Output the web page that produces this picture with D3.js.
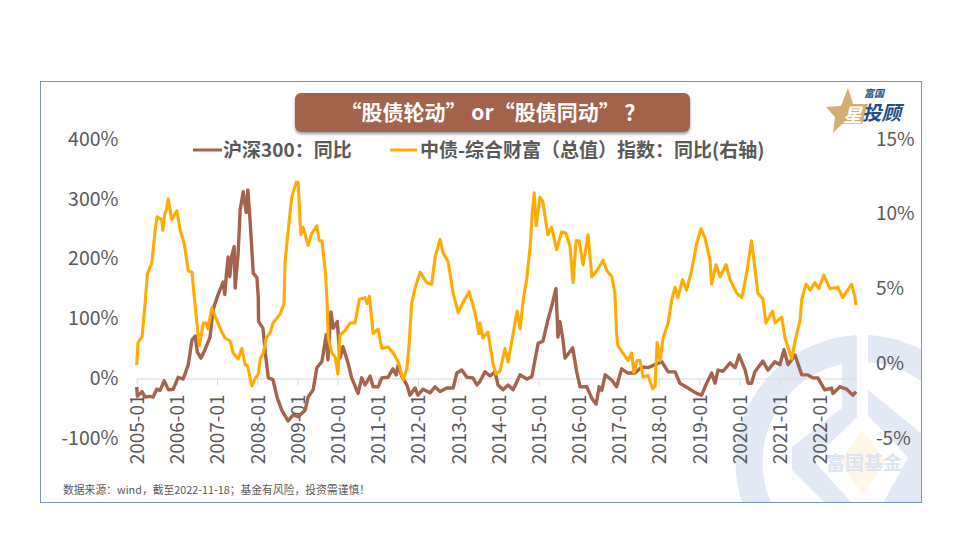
<!DOCTYPE html>
<html><head><meta charset="utf-8">
<script src="https://cdn.jsdelivr.net/npm/d3@7"></script>
<style>html,body{margin:0;padding:0;background:#fff}svg{display:block}text{font-family:"Noto Sans CJK SC","Noto Sans",sans-serif}</style>
</head><body><div id="c"></div>
<script>
const tickLabels=["2005-01","2006-01","2007-01","2008-01","2009-01","2010-01","2011-01","2012-01","2013-01","2014-01","2015-01","2016-01","2017-01","2018-01","2019-01","2020-01","2021-01","2022-01"];
const tickMonths=[0,12,24,36,48,60,72,84,96,108,120,132,144,156,168,180,192,204];
const leftTicks=[-100,0,100,200,300,400];
const rightTicks=[-5,0,5,10,15];
// months elapsed since 2005-01
const stockMonths=[0,.2,1.6,2.5,4,4.9,6,7,8.2,9.5,10.9,12.4,13.9,15.4,16.5,17.5,18.1,19.2,20.4,21.9,22.8,24.3,25.8,26.3,26.8,27.3,27.8,28.4,29.1,29.4,30.3,30.9,31.8,32.7,33.2,33.9,34.8,35.9,36.3,36.4,37.7,38.4,39.3,40.7,41.9,43.3,45.2,46.7,48.2,50.3,51.2,52.7,53.8,55.3,56.6,57.1,58,58.7,59.9,60.7,61.6,63.1,64.2,66.1,67.2,68.2,69.7,70.6,72.1,73.2,75.1,76.5,77.5,78.1,79.2,80.7,81.6,83.1,84,85.5,87.6,89.1,90.6,92.6,94.5,95.6,97.1,98.6,100.4,101.6,102.5,104,105.5,107,107.9,109.4,110.9,112.4,114.5,116.5,118,119.9,121.3,122.8,123.9,125.2,125.8,126.4,127.3,127.9,130.2,131.4,132.4,134.4,135.9,137.2,138.1,138.9,139.9,141.9,143.3,144.8,146.7,148.8,150.8,152.7,154.8,156.8,158.7,160.8,162.2,164.6,167.2,168.7,170.2,171.7,172.7,173.6,175.1,177.2,178.7,179.9,181.7,182.6,183.6,184.6,187,188.5,190.6,192.1,193.3,194.5,196.6,198.6,200.4,201.9,203.4,205.5,207.5,207.9,210,212,213.9,214.8];
const stockYoY=[-14,-30,-22,-31,-30,-31,-18,-20,-4,-19,-18,2,-1,23,64,71,44,34,48,69,115,140,161,140,175,203,170,205,220,151,210,282,312,277,315,260,176,168,136,95,84,43,1,-2,-31,-53,-71,-61,-64,-53,-31,-19,18,28,73,31,111,84,95,34,53,26,1,-25,1,-11,4,-14,-14,1,2,16,6,23,3,-11,-28,-16,-28,-18,-24,-14,-22,-16,-16,9,14,2,1,-11,-5,11,4,11,-11,-19,-11,-19,6,-1,3,59,62,98,120,150,69,95,64,34,51,11,-14,-14,-33,-43,-14,-20,6,-3,-14,16,9,9,19,18,23,28,11,11,-8,-16,-25,-28,-8,9,-8,14,12,26,18,39,14,-8,-8,11,29,14,28,23,48,23,39,6,6,1,1,-19,-16,-25,-14,-18,-28,-22];
const bondMonths=[0,.4,1.6,2.5,3.2,4.5,5.5,6.1,7.5,7.8,8.4,8.9,9.4,10.5,11.2,12,13,14.2,15.4,16.5,17.2,17.8,18.7,19.9,20.7,21.3,22.4,23.9,25.4,26.4,27.9,28.8,30.3,31.4,32.4,33,34.4,35.4,36.3,36.9,37.8,38.7,39.9,40.7,42.8,44,44.3,45.2,46.3,47.6,48.2,49,49.7,51.2,52.3,53.8,54.5,55.3,56.3,56.8,57.2,58.3,59.3,60.1,60.7,62.2,63.7,65.2,66.5,68.2,68.8,69.5,70.6,72.1,73.2,75.1,76.6,78.1,79.6,80.7,81.3,82.1,83.1,84.6,86.6,88.1,89.1,90.6,91.5,93,94.5,96,97.5,99.3,101,102.2,102.5,103.4,104.9,106.4,107.3,108.5,110,110.9,112.4,113.6,114.5,115.4,116.5,117.5,118.1,118.7,119.3,120.4,121.3,122.1,122.8,123.9,125.4,126.9,128.2,129.4,130.3,131.2,132.1,133.3,134.8,135.9,137.4,139.3,140.4,141.9,142.8,143.3,143.7,145.2,146.7,147.8,148.5,149.4,150.3,151.2,152.7,154.1,154.8,155.4,156.3,157.2,158.7,159.8,160.8,161.6,163,164.2,165.7,167.2,168.5,169.7,171.2,171.7,173,174.2,176,177.2,179.2,180.7,182.2,183.6,184.6,185.5,187,187.9,189.9,190.6,192.6,193.6,195.6,196.6,198.1,198.6,199.9,201.1,202.5,203.7,205.2,207,209.4,210.8,212,213.5,214.5,214.8];
const bondYoY=[-.1,1.4,1.8,4,6,6.7,8.9,9.8,9.6,8.9,10,10.3,11,9.6,9.9,10.2,8.9,8,6.2,6.1,4.4,3.1,1.2,2.7,2.7,2.3,3.7,2.9,2.1,1.7,1.5,.7,.3,1,-.1,-.1,-1.5,-1,-.7,.3,.7,1.7,2.1,2.7,3.3,4,6.8,8.8,11.1,12.1,12.1,8.6,9.1,7.9,8.7,9.2,8.2,8.2,6.2,4.4,1.7,.7,.4,-.7,1.9,2.2,2.7,2.7,4.3,4.4,4,4.5,2,2.3,1,1.1,.7,.1,-1.1,-.3,1.1,4,5,6.1,5.4,5.3,7.1,8.3,7.4,6.8,4.7,3.4,4.1,4.8,3.4,2,2.7,1.7,2.1,0,-.7,-.5,1,.1,2,3.5,2.3,4.2,5.7,7.8,10,11.4,9.2,11.1,10.8,9.6,8.6,9.1,7.6,8.8,8.7,7.8,5.4,8.2,8.2,6.6,8.6,5.8,6.2,6.9,6.2,5.8,4.7,2,1.2,.7,.2,.7,-.6,.2,.2,-.9,-.8,-1.7,-1.5,1.4,.2,1.7,2.7,4.3,5.1,4.4,5.6,4.9,6.2,8,9,8.4,6.9,5.3,6.6,5.8,6.6,5.6,4.7,4.4,6.1,8.2,6.4,4.7,4.3,2.7,3.5,2.7,3.1,1.7,.3,1.5,2.9,4.3,5.3,4.9,5.4,5,5.9,5,5.1,4.4,4.8,5.3,4.4,3.9];
const titleText="“股债轮动” or“股债同动” ？";
const legendStock="沪深300：同比";
const legendBond="中债-综合财富（总值）指数：同比(右轴)";
const sourceText="数据来源：wind，截至2022-11-18；基金有风险，投资需谨慎！";
const stockColor="#a3634c",bondColor="#ffab00",textColor="#595959",mark="#e3e9f4";

const svg=d3.select("#c").append("svg").attr("width",960).attr("height",540);
const defs=svg.append("defs");
const f=defs.append("filter").attr("id","sh").attr("x","-5%").attr("y","-20%").attr("width","110%").attr("height","150%");
f.append("feDropShadow").attr("dx",0).attr("dy",2).attr("stdDeviation",1.6).attr("flood-color","#000").attr("flood-opacity",.4);
defs.append("clipPath").attr("id","box").append("rect").attr("x",41).attr("y",82).attr("width",880).attr("height",420);
defs.append("clipPath").attr("id","ringL").append("rect").attr("x",700).attr("y",300).attr("width",157).attr("height",210);
defs.append("clipPath").attr("id","ringR").append("rect").attr("x",868).attr("y",300).attr("width",60).attr("height",210);

svg.append("rect").attr("x",40.5).attr("y",81.5).attr("width",881).attr("height",421).attr("fill","#fff").attr("stroke","#7396bb").attr("stroke-width",1);

// watermark
const wm=svg.append("g").attr("clip-path","url(#box)");
[["ringL"],["ringR"]].forEach(([id])=>{wm.append("g").attr("clip-path",`url(#${id})`).append("circle").attr("cx",862.5).attr("cy",462).attr("r",113.5).attr("fill","none").attr("stroke",mark).attr("stroke-width",27);});
wm.append("path").attr("fill",mark).attr("d","M842,352L857,345L857,417L813,460L852,503L825,503L792,470L792,447L842,408Z");
wm.append("path").attr("fill",mark).attr("d","M868,390L921,433L921,503L883,503L908,458L868,415Z");
wm.append("path").attr("fill","#fef7e8").attr("d","M862.5,430L885.5,462L862.5,494L840,462Z");
wm.append("text").attr("x",864).attr("y",470).attr("text-anchor","middle").attr("font-size",19).attr("font-weight",700).attr("fill","#dbe4f0").text("富国基金");

const x=d3.scaleLinear().domain([0,214.8]).range([136.7,856]);
const yL=d3.scaleLinear().domain([-100,400]).range([438.3,139]);
const yR=d3.scaleLinear().domain([-5,15]).range([438.3,139]);

const ax=svg.append("g").attr("transform",`translate(0,${yL(0)})`)
 .call(d3.axisBottom(x).tickValues(tickMonths).tickFormat((d,i)=>tickLabels[i]).tickSize(7).tickSizeOuter(0));
ax.select(".domain").attr("stroke","#d9d9d9").attr("stroke-width",1);
ax.selectAll("line").attr("stroke","#d9d9d9");
ax.selectAll("text").attr("transform","rotate(-90)").attr("x",-16).attr("y",0).attr("dy",".36em").attr("text-anchor","end").attr("font-size",19).attr("fill",textColor).style("font-family",'"Noto Sans CJK SC"');

const la=svg.append("g").attr("transform","translate(118.5,0)").call(d3.axisLeft(yL).tickValues(leftTicks).tickFormat(d=>d+"%").tickSize(0).tickPadding(0));
la.select(".domain").remove();
la.selectAll("text").attr("font-size",19.5).attr("fill",textColor).style("font-family",'"Noto Sans CJK SC"');
const ra=svg.append("g").attr("transform","translate(876,0)").call(d3.axisRight(yR).tickValues(rightTicks).tickFormat(d=>d+"%").tickSize(0).tickPadding(0));
ra.select(".domain").remove();
ra.selectAll("text").attr("font-size",19).attr("fill",textColor).style("font-family",'"Noto Sans CJK SC"');

const lineOf=(ms,vs,y)=>d3.line().x((d,i)=>x(ms[i])).y((d,i)=>y(vs[i]))(vs);
svg.append("path").attr("d",lineOf(stockMonths,stockYoY,yL)).attr("fill","none").attr("stroke",stockColor).attr("stroke-width",3.4).attr("stroke-linejoin","round");
svg.append("path").attr("d",lineOf(bondMonths,bondYoY,yR)).attr("fill","none").attr("stroke",bondColor).attr("stroke-width",3.1).attr("stroke-linejoin","round");

// title
svg.append("rect").attr("x",295).attr("y",93).attr("width",395).attr("height",39).attr("rx",6).attr("fill",stockColor).attr("filter","url(#sh)");
svg.append("text").attr("x",493).attr("y",120).attr("text-anchor","middle").attr("font-size",21).attr("font-weight",700).attr("fill","#fff").text(titleText);

// legend
const lg=svg.append("g");
lg.append("line").attr("x1",193).attr("x2",222).attr("y1",150).attr("y2",150).attr("stroke",stockColor).attr("stroke-width",3);
lg.append("text").attr("x",223).attr("y",156.5).attr("font-size",19).attr("font-weight",700).attr("fill",textColor).text(legendStock);
lg.append("line").attr("x1",390).attr("x2",417).attr("y1",150).attr("y2",150).attr("stroke",bondColor).attr("stroke-width",3);
lg.append("text").attr("x",420).attr("y",156.5).attr("font-size",19).attr("font-weight",700).attr("fill",textColor).text(legendBond);

svg.append("text").attr("x",63).attr("y",494).attr("font-size",10.8).attr("fill",textColor).text(sourceText);

// logo
svg.append("path").attr("fill","#d3ae6f").attr("d","M848,88L853,104L868,104L862,124L842,124L833,133L835,117L826,107L841,106Z");
svg.append("text").attr("x",843).attr("y",122).attr("font-size",19).attr("font-weight",700).attr("font-style","italic").attr("fill","#fff").text("星");
svg.append("text").attr("x",862).attr("y",120).attr("font-size",19.5).attr("font-weight",700).attr("font-style","italic").attr("fill","#1f4e8c").text("投顾");
svg.append("text").attr("x",864).attr("y",97).attr("font-size",10).attr("font-weight",700).attr("font-style","italic").attr("fill","#1f4e8c").text("富国");
</script></body></html>
